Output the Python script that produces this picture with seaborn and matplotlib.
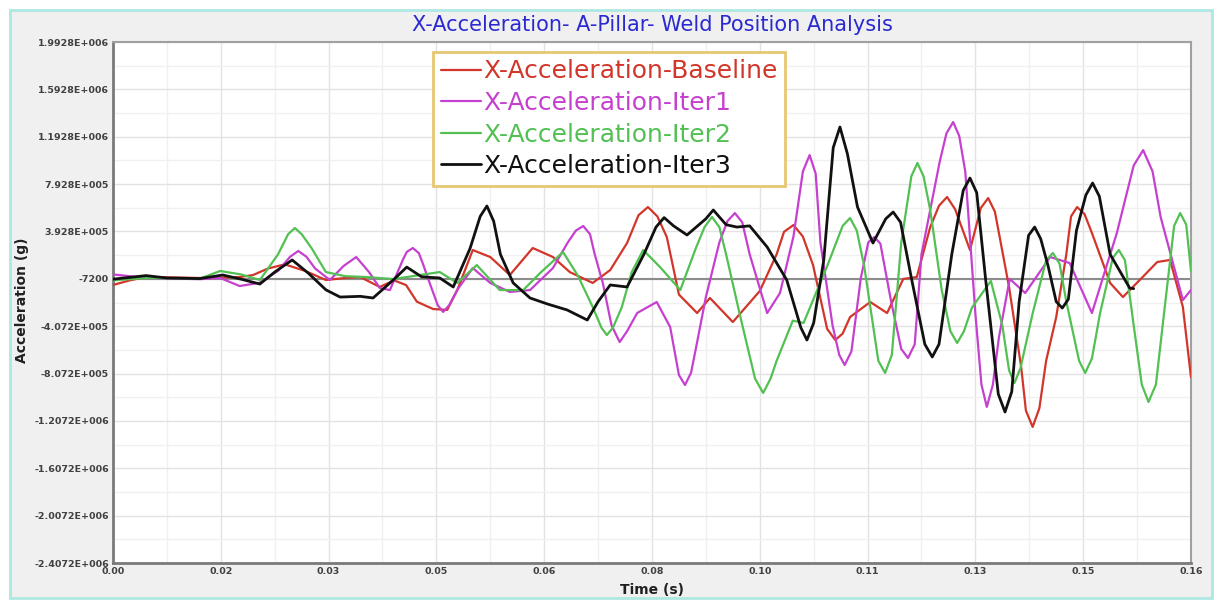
import numpy as np
import pandas as pd
import seaborn as sns
import matplotlib.pyplot as plt
from matplotlib.patches import Rectangle

# time in ms, acceleration in thousands of g
t_baseline = [0, 2.5, 4.9, 8.5, 12.9, 16.0, 18.8, 20.8, 23.0, 25.5, 28.5, 31.6, 34.5, 36.7, 39.6,
              41.7, 43.5, 45.1, 47.5, 49.6, 51.1, 53.4, 56.0, 58.9, 62.3, 65.3, 67.8, 71.2, 73.8,
              76.3, 78.0, 79.4, 80.8, 82.2, 84.0, 86.7, 88.6, 92.0, 96.0, 98.5, 99.6, 101.0, 102.4,
              103.9, 106.0, 107.2, 108.3, 109.4, 112.4, 114.9, 117.3, 119.3, 121.3, 122.6, 123.8,
              125.0, 127.2, 128.8, 129.9, 130.9, 133.0, 134.8, 135.5, 136.5, 137.5, 138.5, 140.0,
              141.5, 142.2, 143.1, 144.2, 145.3, 148.0, 149.9, 152.4, 155.0, 156.9, 158.8, 160.0]
acc_baseline = [-59, -20, 8, 5, 0, 3, 8, 25, 80, 115, 60, -17, 0, 8, -76,
                -20, -60, -200, -262, -270, -102, 236, 177, 25, 253, 177, 50, -42, 67,
                295, 530, 599, 520, 346, -140, -296, -169, -372, -110, 200, 390, 447, 350,
                110, -430, -524, -470, -330, -203, -296, -8, 8, 430, 610, 684,
                580, 236, 590, 675, 560, -76, -752, -1120, -1258, -1100, -700, -330,
                200, 520, 599, 540, 380, -42, -161, -17, 135, 152, -245, -836]

t_iter1 = [0, 2.5, 4.9, 9.0, 12.9, 15.9, 18.8, 21.8, 24.5, 26.3, 27.5, 28.7, 30.0, 32.2, 34.2,
           36.1, 38.0, 39.6, 41.1, 43.0, 43.6, 44.5, 45.4, 46.0, 47.0, 48.2, 49.0, 49.9, 51.1,
           53.4, 56.0, 58.9, 61.9, 65.3, 67.5, 68.7, 69.8, 70.8, 71.5, 72.7, 74.0, 75.2, 76.3,
           77.8, 80.7, 82.7, 84.0, 84.9, 85.8, 86.5, 88.0, 90.0, 91.2, 92.3, 93.4, 94.5, 97.1,
           99.0, 101.0, 102.4, 103.4, 104.3, 105.0, 106.8, 107.8, 108.6, 109.6, 111.0, 112.1,
           113.0, 113.9, 115.5, 117.0, 118.0, 119.0, 120.0, 122.7, 123.7, 124.7, 125.6, 126.5,
           128.0, 128.9, 129.7, 130.6, 131.5, 133.1, 135.4, 139.1, 142.0, 145.3, 149.0, 151.5,
           152.9, 154.3, 155.5, 158.8, 160.0]
acc_iter1 = [30, 15, 0, -5, -10, 0, -68, -40, 60, 180, 228, 180, 80, -17, 100,
             177, 50, -85, -102, 150, 220, 253, 210, 120, -42, -230, -287, -230, -100,
             84, -42, -118, -102, 84, 300, 400, 439, 370, 200, -42, -400, -541, -450,
             -296, -203, -414, -820, -904, -800, -600, -161, 300, 480, 548, 470, 200, -296,
             -127, 350, 900, 1038, 880, 300, -400, -650, -735, -620, 0, 300,
             346, 290, -200, -600, -676, -560, 200, 980, 1220, 1317, 1200, 900,
             -300, -900, -1089, -900, -500, -8, -127, 177, 126, -296, 380, 950,
             1080, 900, 515, -186, -102]

t_iter2 = [0, 4.9, 12.9, 15.9, 19.0, 21.8, 24.5, 26.0, 27.0, 28.0, 29.5, 31.6, 34.5, 37.6, 41.6,
           45.0, 48.5, 51.1, 54.0, 57.4, 60.9, 63.4, 66.8, 69.0, 71.2, 72.5, 73.3, 74.2, 75.5,
           77.0, 78.7, 81.2, 84.2, 86.5, 87.8, 88.9, 90.0, 91.0, 93.0, 95.3, 96.5, 97.6, 98.5,
           100.9, 102.5, 106.0, 108.3, 109.4, 110.4, 111.5, 113.6, 114.6, 115.6, 117.0, 118.5,
           119.4, 120.3, 121.3, 123.0, 124.3, 125.3, 126.3, 127.5, 130.3, 132.0, 133.0, 133.8,
           134.7, 136.5, 138.5, 139.5, 140.5, 141.5, 143.4, 144.3, 145.3, 146.5, 148.4, 149.3,
           150.2, 151.5, 152.7, 153.7, 154.8, 156.0, 157.5, 158.4, 159.3, 160.0]
acc_iter2 = [-20, 0, -5, 59, 30, -17, 200, 370, 422, 370, 250, 50, 15, 8, -9,
             20, 50, -42, 109, -102, -102, 42, 219, 20, -245, -420, -482, -420, -250,
             50, 236, 92, -102, 250, 430, 515, 430, 200, -300, -850, -971, -850, -700,
             -360, -380, 100, 440, 506, 400, 100, -700, -802, -650, 300, 860,
             971, 860, 574, -100, -450, -549, -450, -250, -25, -400, -780, -887,
             -760, -300, 150, 211, 120, -200, -700, -802, -680, -300, 170, 236,
             150, -400, -900, -1047, -900, -300, 440, 548, 450, 60]

t_iter3 = [0, 2.5, 4.9, 8.0, 12.9, 16.3, 19.0, 21.8, 24.0, 26.6, 29.0, 31.6, 33.7, 36.7, 38.6,
           41.6, 43.6, 45.8, 48.5, 50.5, 53.0, 54.5, 55.5, 56.5, 57.5, 59.4, 61.9, 64.5, 67.4,
           70.4, 72.0, 73.8, 76.3, 78.8, 80.6, 81.8, 83.2, 85.2, 88.0, 89.1, 91.0, 92.6, 94.5,
           97.1, 100.0, 102.1, 103.0, 104.0, 105.5, 106.9, 107.9, 109.0, 110.5, 112.8, 114.7,
           115.8, 116.9, 118.5, 120.5, 121.6, 122.6, 124.5, 126.2, 127.2, 128.2, 129.5, 131.4,
           132.4, 133.4, 134.5, 135.9, 136.8, 137.7, 138.8, 140.0, 140.9, 141.8, 143.0, 144.4,
           145.4, 146.4, 148.0, 150.9, 151.5]
acc_iter3 = [-10, 5, 20, 0, -5, 25, -10, -51, 50, 152, 40, -100, -161, -155, -169,
             -17, 92, 10, 0, -76, 250, 520, 608, 480, 200, -42, -169, -220, -270,
             -355, -200, -59, -76, 200, 430, 510, 440, 363, 500, 574, 450, 430, 440,
             261, -17, -420, -524, -380, 152, 1100, 1275, 1050, 600, 295, 500,
             557, 470, 0, -560, -667, -560, 200, 740, 844, 720, 0, -980,
             -1132, -960, -200, 360, 430, 330, 100, -200, -254, -180, 400, 700,
             802, 690, 200, -85, -90]

series_names = ["X-Acceleration-Baseline", "X-Acceleration-Iter1",
                "X-Acceleration-Iter2", "X-Acceleration-Iter3"]
series_colors = ["#d2362a", "#c640d0", "#52c052", "#111111"]

ytick_labels = ["-2.4072E+006", "-2.0072E+006", "-1.6072E+006", "-1.2072E+006",
                "-8.072E+005", "-4.072E+005", "-7200", "3.928E+005", "7.928E+005",
                "1.1928E+006", "1.5928E+006", "1.9928E+006"]
xtick_labels = ["0.00", "0.02", "0.03", "0.05", "0.06", "0.08", "0.10", "0.11", "0.13",
                "0.15", "0.16"]


def main():
    sns.set_theme(style="white")
    plt.rcParams["font.family"] = ["DejaVu Sans"]

    fig = plt.figure(figsize=(12.19, 6.01), dpi=100)
    fig.patch.set_facecolor("white")
    # grey panel with the turquoise frame, kept behind the axes
    fig.patches.append(Rectangle((0.0082, 0.005), 0.986, 0.978, transform=fig.transFigure,
                                 facecolor="#f0f0f0", edgecolor="#aee8e2", linewidth=2,
                                 zorder=-10))

    ax = fig.add_axes([0.0927, 0.0632, 0.8843, 0.8669])
    ax.set_facecolor("white")

    y_ticks = -7200 + 4e5 * np.arange(-6, 6)
    x_ticks = np.linspace(0, 0.16, 11)

    ax.set_xlim(0, 0.16)
    ax.set_ylim(y_ticks[0], y_ticks[-1])
    ax.set_xticks(x_ticks)
    ax.set_yticks(y_ticks)
    ax.set_xticks((x_ticks[:-1] + x_ticks[1:]) / 2, minor=True)
    ax.set_yticks((y_ticks[:-1] + y_ticks[1:]) / 2, minor=True)
    ax.grid(True, which="major", color="#e2e2e2", linewidth=1.0)
    ax.grid(True, which="minor", color="#f0f0f0", linewidth=1.0)
    ax.set_axisbelow(True)

    ax.axhline(-7200, color="#8c8c8c", linewidth=1.5, zorder=1)

    data = [(t_baseline, acc_baseline), (t_iter1, acc_iter1),
            (t_iter2, acc_iter2), (t_iter3, acc_iter3)]
    for (t, a), name, col in zip(data, series_names, series_colors):
        df = pd.DataFrame({"time": np.array(t) / 1000.0, "acc": np.array(a) * 1000.0})
        sns.lineplot(data=df, x="time", y="acc", ax=ax, color=col, label=name,
                     linewidth=2.0 if col == "#111111" else 1.6, errorbar=None,
                     solid_joinstyle="round", zorder=3)

    ax.set_xticklabels(xtick_labels)
    ax.set_yticklabels(ytick_labels)
    ax.tick_params(axis="both", which="both", length=0, labelsize=6.8,
                   labelcolor="#404040", pad=3)
    for lab in ax.get_xticklabels() + ax.get_yticklabels():
        lab.set_fontweight("bold")

    for side in ["left", "bottom"]:
        ax.spines[side].set_color("#7a7a7a")
        ax.spines[side].set_linewidth(2)
    for side in ["top", "right"]:
        ax.spines[side].set_color("#a0a0a0")
        ax.spines[side].set_linewidth(1.5)

    ax.set_xlabel("")
    ax.set_ylabel("")
    fig.text(0.535, 0.018, "Time (s)", ha="center", va="center", fontsize=10,
             fontweight="bold", color="#202020")
    fig.text(0.018, 0.5, "Acceleration (g)", ha="center", va="center", rotation=90,
             fontsize=10, fontweight="bold", color="#202020")
    fig.text(0.535, 0.958, "X-Acceleration- A-Pillar- Weld Position Analysis",
             ha="center", va="center", fontsize=15, color="#2a2ad0")

    leg = ax.legend(loc="upper left", bbox_to_anchor=(433 / 1219, 1 - 52 / 601),
                    bbox_transform=fig.transFigure, fontsize=18, frameon=True,
                    fancybox=False, handlelength=1.6, handletextpad=0.1,
                    labelspacing=0.3, borderpad=0.3, borderaxespad=0)
    leg.get_frame().set_edgecolor("#e6c872")
    leg.get_frame().set_linewidth(2)
    leg.get_frame().set_facecolor("white")
    leg.get_frame().set_alpha(1)
    for txt, col in zip(leg.get_texts(), series_colors):
        txt.set_color(col)

    fig.savefig("out.png", dpi=100)


if __name__ == "__main__":
    main()
